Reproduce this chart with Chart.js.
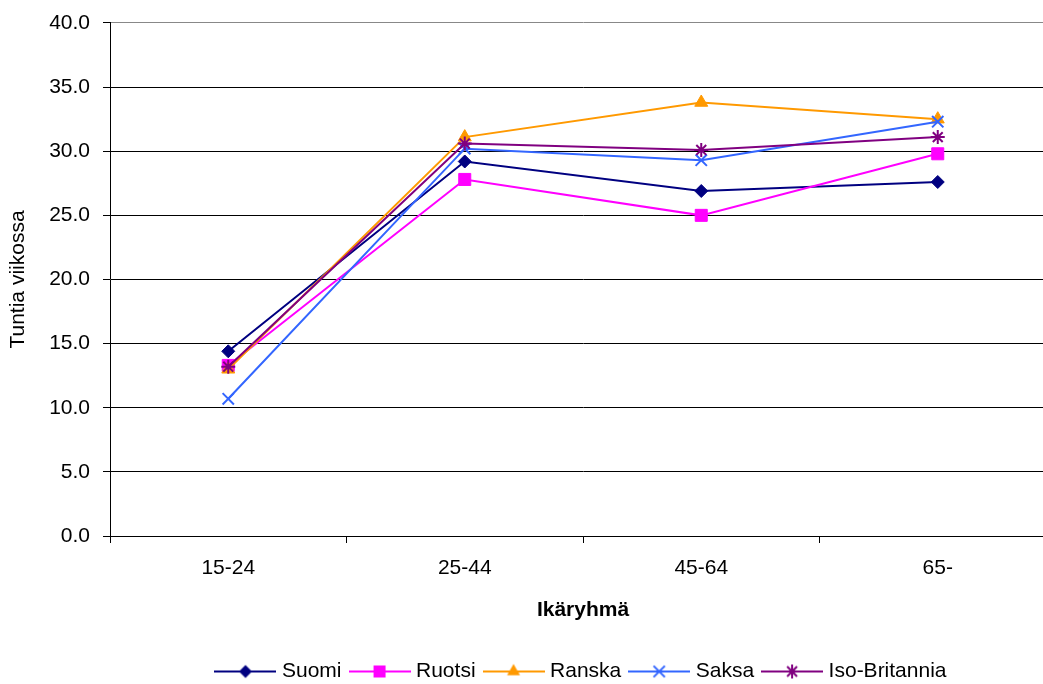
<!DOCTYPE html>
<html>
<head>
<meta charset="utf-8">
<script src="https://cdn.jsdelivr.net/npm/chart.js@4.4.0/dist/chart.umd.min.js"></script>
<style>
  html, body { margin: 0; padding: 0; background: #fff; overflow: hidden; }
  canvas { display: block; }
</style>
</head>
<body>
<canvas id="myChart" width="1066" height="684"></canvas>
<script>
// data
const categories = ['15-24', '25-44', '45-64', '65-'];
const suomi = [14.4, 29.2, 26.9, 27.6];
const ruotsi = [13.3, 27.8, 25.0, 29.8];
const ranska = [13.0, 31.1, 33.8, 32.5];
const saksa = [10.7, 30.2, 29.3, 32.3];
const isoBritannia = [13.2, 30.6, 30.1, 31.1];
const seriesNames = ['Suomi', 'Ruotsi', 'Ranska', 'Saksa', 'Iso-Britannia'];
const yTickLabels = ['0.0', '5.0', '10.0', '15.0', '20.0', '25.0', '30.0', '35.0', '40.0'];

const colors = ['#000080', '#FF00FF', '#FF9900', '#3366FF', '#800080'];
const styles = ['rectRot', 'rect', 'triangle', 'crossRot', 'star'];
const radii = [6.5, 8.5, 7.5, 8, 7];
const allValues = [suomi, ruotsi, ranska, saksa, isoBritannia];

Chart.defaults.font.family = "'Liberation Sans', Arial, sans-serif";
Chart.defaults.font.size = 21;
Chart.defaults.color = '#000';

// little line + marker picture for the legend, like in Excel
function legendMarker(color, style, r) {
  const c = document.createElement('canvas');
  c.width = 62;
  c.height = 22;
  const g = c.getContext('2d');
  const x = 31, y = 11;
  g.strokeStyle = color;
  g.fillStyle = color;
  g.lineWidth = 2;
  g.beginPath();
  g.moveTo(0, y);
  g.lineTo(62, y);
  g.stroke();
  g.beginPath();
  if (style === 'rectRot') {
    g.moveTo(x, y - r); g.lineTo(x + r, y); g.lineTo(x, y + r); g.lineTo(x - r, y);
    g.closePath(); g.fill();
  } else if (style === 'rect') {
    const s = r * Math.SQRT1_2;
    g.fillRect(x - s, y - s, 2 * s, 2 * s);
  } else if (style === 'triangle') {
    g.moveTo(x, y - r);
    g.lineTo(x + r * Math.sin(Math.PI * 2 / 3), y + r / 2);
    g.lineTo(x - r * Math.sin(Math.PI * 2 / 3), y + r / 2);
    g.closePath(); g.fill();
  } else if (style === 'crossRot') {
    const s = r * Math.SQRT1_2;
    g.moveTo(x - s, y - s); g.lineTo(x + s, y + s);
    g.moveTo(x + s, y - s); g.lineTo(x - s, y + s);
    g.stroke();
  } else if (style === 'star') {
    const s = r * Math.SQRT1_2;
    g.moveTo(x - s, y - s); g.lineTo(x + s, y + s);
    g.moveTo(x + s, y - s); g.lineTo(x - s, y + s);
    g.moveTo(x, y - r); g.lineTo(x, y + r);
    g.stroke();
  }
  return c;
}

const datasets = seriesNames.map((name, i) => ({
  label: name,
  data: allValues[i],
  borderColor: colors[i],
  backgroundColor: colors[i],
  borderWidth: 2,
  pointStyle: styles[i],
  pointRadius: radii[i],
  pointHoverRadius: radii[i],
  pointBackgroundColor: colors[i],
  pointBorderColor: colors[i],
  pointBorderWidth: (styles[i] === 'crossRot' || styles[i] === 'star') ? 2 : 1,
  tension: 0,
  fill: false,
  order: seriesNames.length - i // later series on top
}));

const legendShift = {
  id: 'legendShift',
  afterLayout(chart) {
    const lg = chart.legend;
    lg.left = chart.chartArea.left;
    lg.right = chart.chartArea.right;
    lg.top += 8;
    lg.bottom += 8;
  }
};

const chart = new Chart(document.getElementById('myChart'), {
  type: 'line',
  data: { labels: categories, datasets: datasets },
  plugins: [legendShift],
  options: {
    responsive: false,
    animation: false,
    devicePixelRatio: 1,
    layout: { padding: { top: 0, left: 0, right: 4, bottom: 0 } },
    plugins: {
      tooltip: { enabled: false },
      legend: {
        position: 'bottom',
        labels: {
          usePointStyle: true,
          pointStyleWidth: 52,
          padding: 12,
          color: '#000',
          font: { size: 21 },
          generateLabels(ch) {
            return ch.data.datasets.map((ds, i) => ({
              text: ds.label,
              datasetIndex: i,
              pointStyle: legendMarker(colors[i], styles[i], radii[i]),
              fillStyle: colors[i],
              strokeStyle: colors[i],
              lineWidth: 0,
              hidden: !ch.isDatasetVisible(i)
            }));
          }
        }
      }
    },
    scales: {
      x: {
        offset: true,
        grid: {
          offset: true,
          drawOnChartArea: false,
          drawTicks: true,
          tickLength: 7,
          tickColor: '#000',
          color: '#000'
        },
        border: { color: '#000', width: 1 },
        ticks: { padding: 13, maxRotation: 0, color: '#000', font: { size: 21 } },
        title: {
          display: true,
          text: 'Ikäryhmä',
          color: '#000',
          font: { size: 21, weight: 'bold' },
          padding: { top: 0, bottom: 18 }
        },
        afterFit(scale) { scale.height = 105; }
      },
      y: {
        min: 0,
        max: 40,
        ticks: {
          stepSize: 5,
          padding: 13,
          color: '#000',
          font: { size: 21, lineHeight: 0.95 },
          callback: (v, idx) => yTickLabels[idx]
        },
        grid: {
          color: ctx => (ctx.tick && ctx.tick.value === 40) ? '#888888' : '#000000',
          lineWidth: 1,
          tickLength: 7,
          tickColor: '#000'
        },
        border: { color: '#000', width: 1 },
        title: {
          display: true,
          text: 'Tuntia viikossa',
          color: '#000',
          font: { size: 21 },
          padding: { top: 6, bottom: 0 }
        },
        afterFit(scale) { scale.width = 110; }
      }
    }
  }
});
</script>
</body>
</html>
